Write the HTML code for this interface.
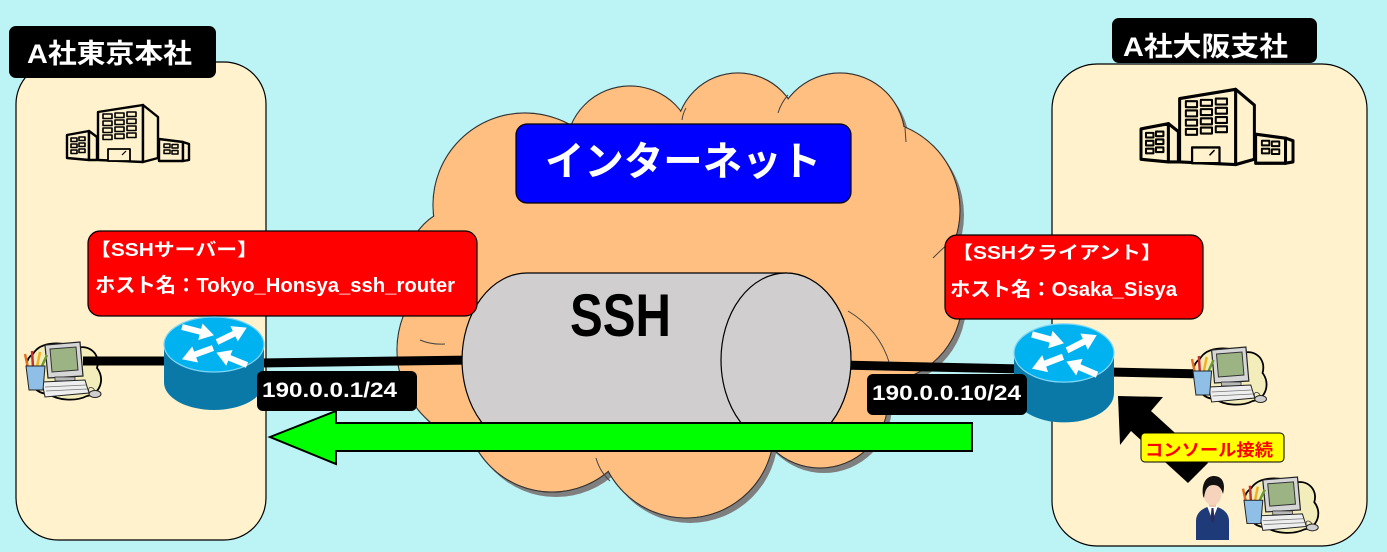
<!DOCTYPE html>
<html><head><meta charset="utf-8">
<style>
html,body{margin:0;padding:0;width:1387px;height:552px;overflow:hidden;background:#bcf3f5}
svg{display:block}
text{font-family:"Liberation Sans","Noto Sans CJK JP",sans-serif;font-weight:bold}
</style></head>
<body>
<svg width="1387" height="552" viewBox="0 0 1387 552" xmlns="http://www.w3.org/2000/svg">
<defs>
  <g id="bld" fill="#fff2cc" stroke="#000" stroke-width="2.4" stroke-linejoin="round">
    <polygon points="67,135 89,131 89,160 67,158"/>
    <polygon points="89,131 97,137 97,160 89,160"/>
    <g stroke-width="1.6">
      <rect x="71" y="138" width="6" height="3.5"/><rect x="79" y="137" width="6" height="3.5"/>
      <rect x="71" y="144" width="6" height="3.5"/><rect x="79" y="143" width="6" height="3.5"/>
      <rect x="71" y="150" width="6" height="3.5"/><rect x="79" y="149" width="6" height="3.5"/>
    </g>
    <polygon points="98,112 143,105 143,162 98,160"/>
    <polygon points="143,105 158,117 158,158 143,162"/>
    <g stroke-width="1.6">
      <rect x="103" y="114" width="9" height="4.5"/><rect x="115" y="113" width="9" height="4.5"/><rect x="127" y="112" width="9" height="4.5"/>
      <rect x="103" y="121" width="9" height="4.5"/><rect x="115" y="120" width="9" height="4.5"/><rect x="127" y="119" width="9" height="4.5"/>
      <rect x="103" y="128" width="9" height="4.5"/><rect x="115" y="127" width="9" height="4.5"/><rect x="127" y="126" width="9" height="4.5"/>
      <rect x="103" y="135" width="9" height="4.5"/><rect x="115" y="134" width="9" height="4.5"/><rect x="127" y="133" width="9" height="4.5"/>
    </g>
    <rect x="108" y="149" width="22" height="12" stroke-width="1.8"/>
    <line x1="122" y1="155" x2="126" y2="151" stroke-width="1.2"/>
    <polygon points="159,139 183,142 183,161 159,161"/>
    <polygon points="183,142 189,144 189,160 183,161"/>
    <g stroke-width="1.5">
      <rect x="164" y="144" width="6" height="3.5"/><rect x="172" y="144.5" width="6" height="3.5"/>
      <rect x="164" y="150" width="6" height="3.5"/><rect x="172" y="150.5" width="6" height="3.5"/>
    </g>
  </g>
  <g id="pc">
    <path d="M8,12 C16,-2 40,0 52,6 C64,2 76,12 72,26 C80,36 76,52 62,54 C50,60 32,58 24,52 C12,52 2,42 4,30 C0,22 2,16 8,12Z" fill="#f2edba" stroke="#000" stroke-width="1.8"/>
    <polygon points="20,3 55,0 58,34 23,36" fill="#d6d6d6" stroke="#222" stroke-width="1.2"/>
    <polygon points="25,7 51,5 53,28 27,30" fill="#9cb383" stroke="#333" stroke-width="1"/>
    <rect x="30" y="35" width="20" height="4" fill="#b8b8b8" stroke="#333" stroke-width="0.8"/>
    <polygon points="17,40 60,38 64,51 20,55" fill="#eeeeee" stroke="#222" stroke-width="1"/>
    <line x1="20" y1="45" x2="61" y2="43" stroke="#777" stroke-width="0.8"/>
    <line x1="21" y1="49" x2="62" y2="47" stroke="#777" stroke-width="0.8"/>
    <line x1="3" y1="26" x2="0" y2="12" stroke="#e07020" stroke-width="2.5"/>
    <line x1="8" y1="25" x2="7" y2="9" stroke="#c83030" stroke-width="2.5"/>
    <line x1="12" y1="25" x2="15" y2="10" stroke="#f0b020" stroke-width="2.5"/>
    <line x1="16" y1="26" x2="22" y2="13" stroke="#6a9a30" stroke-width="2.5"/>
    <polygon points="1,24 20,24 18,48 4,48" fill="#8fbfe6" stroke="#222" stroke-width="1"/>
    <path d="M64,50 C62,44 68,44 70,49" fill="none" stroke="#333" stroke-width="0.8"/>
    <ellipse cx="70" cy="52" rx="6" ry="3.5" fill="#cfcfcf" stroke="#222" stroke-width="1"/>
  </g>
  <polygon id="rarr" points="0,-3 19,-3 19,-8.5 33,0 19,8.5 19,3 0,3" fill="#fff"/>
  <g id="router">
    <path d="M-50,0 L-50,38 A50,27.5 0 0 0 50,38 L50,0 Z" fill="#0a79a8"/>
    <ellipse cx="0" cy="0" rx="50" ry="27.5" fill="#00b2ef" stroke="#7fd6f6" stroke-width="1.2"/>
    <use href="#rarr" transform="translate(-32,-17.5) rotate(14.5)"/>
    <use href="#rarr" transform="translate(3,-2.5) rotate(-25.8)"/>
    <use href="#rarr" transform="translate(-1,3.5) rotate(160)"/>
    <use href="#rarr" transform="translate(33,20.5) rotate(202)"/>
  </g>
</defs>

<!-- office boxes -->
<rect x="16" y="62" width="250" height="478" rx="42" fill="#fff2cc" stroke="#000" stroke-width="1.2"/>
<rect x="1052" y="64" width="315" height="482" rx="45" fill="#fff2cc" stroke="#000" stroke-width="1.2"/>
<rect x="9" y="26" width="207" height="52" rx="7" fill="#000"/>
<text x="27" y="63" font-size="27" fill="#fff" textLength="165" lengthAdjust="spacingAndGlyphs">A社東京本社</text>
<rect x="1112" y="18" width="205" height="45" rx="7" fill="#000"/>
<text x="1123" y="56" font-size="27" fill="#fff" textLength="165" lengthAdjust="spacingAndGlyphs">A社大阪支社</text>

<use href="#bld"/>
<use href="#bld" transform="translate(1141,88) scale(1.246,1.32) translate(-67,-104)"/>

<!-- cloud -->
<g fill="#7f7f7f" transform="translate(4,5)">
  <circle cx="525" cy="205" r="92"/><circle cx="630" cy="150" r="64"/><circle cx="738" cy="135" r="62"/>
  <circle cx="840" cy="138" r="65"/><circle cx="870" cy="210" r="90"/><circle cx="880" cy="300" r="82"/>
  <circle cx="820" cy="400" r="68"/><circle cx="686" cy="430" r="88"/><circle cx="552" cy="405" r="87"/>
  <circle cx="492" cy="350" r="95"/><circle cx="470" cy="270" r="65"/><circle cx="680" cy="290" r="170"/>
</g>
<g fill="#ffbf80" stroke="#333" stroke-width="1.2">
  <circle cx="525" cy="205" r="92"/><circle cx="630" cy="150" r="64"/><circle cx="738" cy="135" r="62"/>
  <circle cx="840" cy="138" r="65"/><circle cx="870" cy="210" r="90"/><circle cx="880" cy="300" r="82"/>
  <circle cx="820" cy="400" r="68"/><circle cx="686" cy="430" r="88"/><circle cx="552" cy="405" r="87"/>
  <circle cx="492" cy="350" r="95"/><circle cx="470" cy="270" r="65"/><circle cx="680" cy="290" r="170"/>
</g>
<g fill="#ffbf80">
  <circle cx="525" cy="205" r="91.4"/><circle cx="630" cy="150" r="63.4"/><circle cx="738" cy="135" r="61.4"/>
  <circle cx="840" cy="138" r="64.4"/><circle cx="870" cy="210" r="89.4"/><circle cx="880" cy="300" r="81.4"/>
  <circle cx="820" cy="400" r="67.4"/><circle cx="686" cy="430" r="87.4"/><circle cx="552" cy="405" r="86.4"/>
  <circle cx="492" cy="350" r="94.4"/><circle cx="470" cy="270" r="64.4"/><circle cx="680" cy="290" r="169.4"/>
</g>
<g fill="none" stroke="#444" stroke-width="1">
  <path d="M420,340 Q432,345 445,344"/>
  <path d="M848,311 Q880,330 890,365"/>
  <path d="M596,458 Q600,472 610,481"/>
  <path d="M933,258 Q945,246 955,238"/>
  <path d="M905,128 L906,142"/>
  <path d="M686,108 Q683,113 682,120"/>
  <path d="M788,95 Q781,103 778,113"/>
</g>

<!-- internet label -->
<rect x="516" y="124" width="335" height="79" rx="11" fill="#0000ff" stroke="#000" stroke-width="1.2"/>
<text x="545" y="175" font-size="40" fill="#fff" textLength="276" lengthAdjust="spacingAndGlyphs">インターネット</text>

<!-- connection lines -->
<line x1="260" y1="363" x2="475" y2="360" stroke="#000" stroke-width="9"/>
<line x1="840" y1="365" x2="1020" y2="369" stroke="#000" stroke-width="9"/>
<line x1="1110" y1="372" x2="1205" y2="374" stroke="#000" stroke-width="9"/>

<!-- SSH tunnel -->
<path d="M527,273 L786,273 A65,87 0 0 1 786,447 L527,447 A65,87 0 0 1 527,273 Z" fill="#d0cece" stroke="#000" stroke-width="1.2"/>
<ellipse cx="786" cy="360" rx="65" ry="87" fill="#d0cece" stroke="#000" stroke-width="1.2"/>
<text x="570" y="336" font-size="60" fill="#000" textLength="101" lengthAdjust="spacingAndGlyphs">SSH</text>

<!-- red host boxes -->
<rect x="88" y="231" width="389" height="85" rx="12" fill="#ff0000" stroke="#000" stroke-width="1.2"/>
<text x="90" y="256" font-size="18" fill="#fff" textLength="168" lengthAdjust="spacingAndGlyphs">【SSHサーバー】</text>
<text x="95" y="292" font-size="20" fill="#fff" textLength="360" lengthAdjust="spacingAndGlyphs">ホスト名：Tokyo_Honsya_ssh_router</text>
<rect x="945" y="235" width="258" height="84" rx="12" fill="#ff0000" stroke="#000" stroke-width="1.2"/>
<text x="952" y="259" font-size="18" fill="#fff" textLength="210" lengthAdjust="spacingAndGlyphs">【SSHクライアント】</text>
<text x="950" y="296" font-size="20" fill="#fff" textLength="227" lengthAdjust="spacingAndGlyphs">ホスト名：Osaka_Sisya</text>

<!-- PCs -->
<use href="#pc" transform="translate(25,342)"/>
<line x1="83" y1="361" x2="170" y2="361" stroke="#000" stroke-width="9"/>
<use href="#pc" transform="translate(1192,347) scale(0.98,1)"/>
<use href="#pc" transform="translate(1243,477) scale(0.99,0.97)"/>

<!-- routers -->
<use href="#router" transform="translate(214,344.5)"/>
<use href="#router" transform="translate(1064,353) scale(1,1.06)"/>

<!-- IP labels -->
<rect x="257" y="371" width="160" height="40" rx="6" fill="#000"/>
<text x="262" y="397" font-size="21" fill="#fff" textLength="135" lengthAdjust="spacingAndGlyphs">190.0.0.1/24</text>
<rect x="867" y="374" width="160" height="41" rx="6" fill="#000"/>
<text x="872" y="400" font-size="21" fill="#fff" textLength="149" lengthAdjust="spacingAndGlyphs">190.0.0.10/24</text>

<!-- green arrow -->
<polygon points="270,437 336,411 336,423 972,423 972,451 336,451 336,464" fill="#00ff00" stroke="#000" stroke-width="2" stroke-linejoin="miter"/>

<!-- console arrow -->
<polygon points="1118,396 1163,397 1151,411 1208,463 1188,483 1131,431 1120,445" fill="#000"/>
<rect x="1141" y="433" width="143" height="29" rx="4" fill="#ffff00" stroke="#000" stroke-width="1"/>
<text x="1145" y="456" font-size="17" fill="#ff0000" textLength="128" lengthAdjust="spacingAndGlyphs">コンソール接続</text>

<!-- person -->
<g transform="translate(1195,475)">
  <path d="M1,65 L1,46 C1,37 9,32 17,31 C26,32 34,37 34,46 L34,65 Z" fill="#1f3a78"/>
  <polygon points="12,31 23,31 17.5,45" fill="#fff"/>
  <polygon points="16.5,33 18.5,33 19.5,44 17.5,48 15.5,44" fill="#2a2a5a"/>
  <rect x="14" y="26" width="7" height="6" fill="#efc7ad"/>
  <ellipse cx="17.5" cy="19" rx="9" ry="11" fill="#f6d3bd"/>
  <path d="M8,21 C6,6 13,1 19,1 C27,1 31,8 28,19 C26,12 23,10 18,10 C13,10 10,14 9,23 Z" fill="#111"/>
</g>
</svg>
</body></html>
